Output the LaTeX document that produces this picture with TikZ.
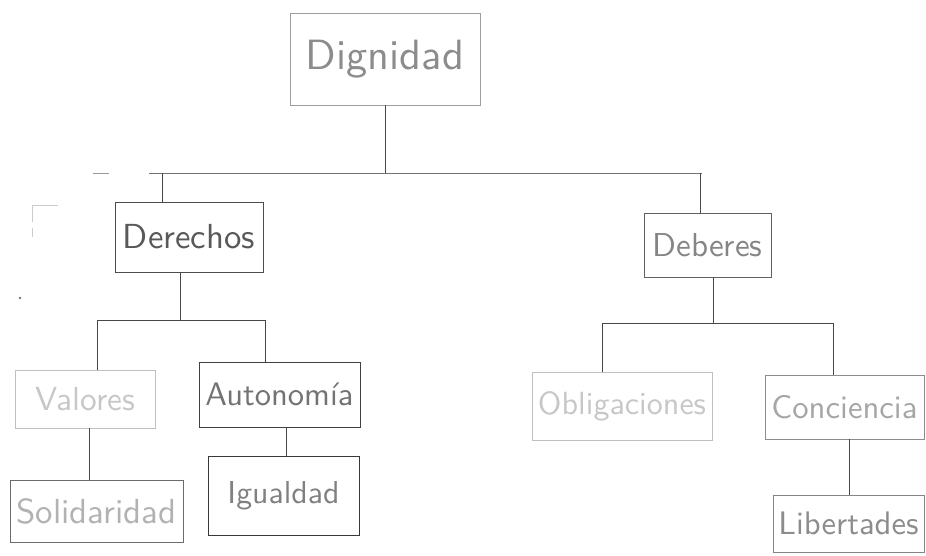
\documentclass[tikz,border=0pt]{standalone}
\usepackage{graphicx}
\begin{document}
\begin{tikzpicture}[x=1pt,y=-1pt]
\useasboundingbox (0,0) rectangle (926,555);
\tikzset{
  box/.style={draw, rectangle, inner sep=0pt, line width=0.9pt},
  link/.style={draw=black!72, line width=0.9pt},
  stray/.style={draw=black!20, line width=0.8pt},
}
% fit a word to a given width
\newcommand{\fitword}[2]{\resizebox{#1}{!}{\sffamily #2}}

% top level
\node[box, draw=black!38, text=black!45, minimum width=190pt, minimum height=92pt]
  (dig) at (385,59) {\fitword{158pt}{Dignidad}};

% second level
\node[box, draw=black!70, text=black!65, minimum width=148pt, minimum height=70pt]
  (der) at (189,237) {\fitword{132pt}{Derechos}};
\node[box, draw=black!62, text=black!48, minimum width=127pt, minimum height=64pt]
  (deb) at (707.5,245) {\fitword{110pt}{Deberes}};

% third level
\node[box, draw=black!25, text=black!22, minimum width=140pt, minimum height=58pt]
  (val) at (85,399) {\fitword{100pt}{Valores}};
\node[box, draw=black!75, text=black!55, minimum width=161pt, minimum height=65pt]
  (aut) at (279.5,394.5) {\fitword{148pt}{Autonomía}};
\node[box, draw=black!25, text=black!22, minimum width=180pt, minimum height=68pt]
  (obl) at (622,406) {\fitword{168pt}{Obligaciones}};
\node[box, draw=black!45, text=black!35, minimum width=159pt, minimum height=64pt]
  (con) at (844.5,407) {\fitword{146pt}{Conciencia}};

% fourth level
\node[box, draw=black!58, text=black!30, minimum width=173pt, minimum height=62pt]
  (sol) at (96.5,511) {\fitword{160pt}{Solidaridad}};
\node[box, draw=black!78, text=black!50, minimum width=151pt, minimum height=79pt]
  (igu) at (283.5,495.5) {\fitword{112pt}{Igualdad}};
\node[box, draw=black!48, text=black!45, minimum width=151pt, minimum height=57pt]
  (lib) at (848.5,523.5) {\fitword{140pt}{Libertades}};

% junction points
\coordinate (b1l) at (149,173);
\coordinate (b1r) at (702,173);
\coordinate (j1a) at (162,173);
\coordinate (j1b) at (700,173);
\coordinate (b2l) at (97,320);
\coordinate (b2r) at (265,320);
\coordinate (j2) at (180,320);
\coordinate (b3l) at (602,323);
\coordinate (b3r) at (833,323);
\coordinate (j3) at (713,323);

% Dignidad branches
\draw[link] (dig.south) -- (dig.south |- b1l);
\draw[link, draw=black!55] (b1l) -- (b1r);
\draw[link] (j1a) -- (j1a |- der.north);
\draw[link] (j1b) -- (j1b |- deb.north);

% Derechos branches
\draw[link] (j2 |- der.south) -- (j2);
\draw[link] (b2l) -- (b2r);
\draw[link] (b2l) -- (b2l |- val.north);
\draw[link] (b2r) -- (b2r |- aut.north);
\draw[link] ([xshift=4pt]val.south) -- ([xshift=4pt]val.south |- sol.north);
\draw[link] ([xshift=6.5pt]aut.south) -- ([xshift=6.5pt]aut.south |- igu.north);

% Deberes branches
\draw[link] (j3 |- deb.south) -- (j3);
\draw[link] (b3l) -- (b3r);
\draw[link] (b3l) -- (b3l |- obl.north);
\draw[link] (b3r) -- (b3r |- con.north);
\draw[link] ([xshift=4.5pt]con.south) -- ([xshift=4.5pt]con.south |- lib.north);

% loose pencil marks
\draw[stray] (58,205) -- (32,205) -- (32,222);
\draw[stray] (32,228) -- (32,237);
\draw[stray, draw=black!40] (93,173) -- (109,173);
\fill[black!55] (20,298) circle (1.3pt);
\end{tikzpicture}
\end{document}
